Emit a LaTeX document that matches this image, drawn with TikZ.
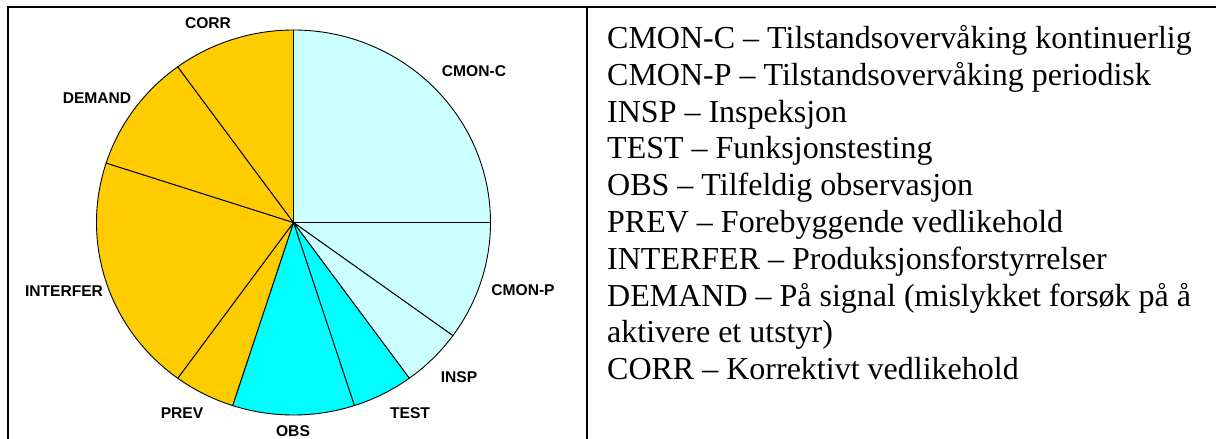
\documentclass[tikz,border=0pt]{standalone}
\usepackage{fontspec}
\setmainfont{Liberation Serif}
\newfontfamily\labelfont{Liberation Sans}
\definecolor{paleCyan}{HTML}{CCFFFF}
\definecolor{cyanA}{HTML}{00FFFF}
\definecolor{goldA}{HTML}{FFCC00}

\begin{document}
\begin{tikzpicture}[x=1pt,y=1pt,
  slicelbl/.style={font=\labelfont\bfseries\fontsize{15.6}{18}\selectfont, inner sep=0pt},
  legendline/.style={anchor=base west, inner sep=0pt, font=\fontsize{32}{36}\selectfont},
  rule/.style={line width=2pt},
  wedge/.style={draw=black, line width=0.9pt, line join=round}]
\useasboundingbox (0,0) rectangle (1216,439);

% frame of the two-cell table
\coordinate (tr) at (1216,432);
\coordinate (tl) at (8,432);
\coordinate (bl) at (8,0);
\coordinate (mt) at (587,432);
\coordinate (mb) at (587,0);
\draw[rule] (tr) -- (tl) -- (bl);
\draw[rule] (mt) -- (mb);

% pie chart
\coordinate (c) at (293.5,216.5);
\foreach \a/\b/\col in {0/90/paleCyan, -36/0/paleCyan, -54/-36/paleCyan,
    -72/-54/cyanA, -108/-72/cyanA, -126/-108/goldA, -198/-126/goldA,
    126/162/goldA, 90/126/goldA}
  \filldraw[wedge, fill=\col] (c) -- ++(\a:197 and 192.5)
     arc[start angle=\a, end angle=\b, x radius=197, y radius=192.5] -- cycle;

% slice labels
\node[slicelbl] (corr)  at (208,416) {CORR};
\node[slicelbl] (dem)   at (97,341)  {DEMAND};
\node[slicelbl] (cmonc) at (474,368) {CMON-C};
\node[slicelbl] (cmonp) at (523,149) {CMON-P};
\node[slicelbl] (insp)  at (459,62)  {INSP};
\node[slicelbl] (test)  at (410,26)  {TEST};
\node[slicelbl] (obs)   at (293,8)   {OBS};
\node[slicelbl] (prev)  at (182,26)  {PREV};
\node[slicelbl] (intf)  at (64,148)  {INTERFER};

% legend
\node[legendline] (l1)  at (607,390.5) {CMON-C – Tilstandsovervåking kontinuerlig};
\node[legendline] (l2)  at (607,353.7) {CMON-P – Tilstandsovervåking periodisk};
\node[legendline] (l3)  at (607,316.9) {INSP – Inspeksjon};
\node[legendline] (l4)  at (607,280.1) {TEST – Funksjonstesting};
\node[legendline] (l5)  at (607,243.3) {OBS – Tilfeldig observasjon};
\node[legendline] (l6)  at (607,206.5) {PREV – Forebyggende vedlikehold};
\node[legendline] (l7)  at (607,169.7) {INTERFER – Produksjonsforstyrrelser};
\node[legendline] (l8)  at (607,132.9) {DEMAND – På signal (mislykket forsøk på å};
\node[legendline] (l9)  at (607,96.1)  {aktivere et utstyr)};
\node[legendline] (l10) at (607,59.3)  {CORR – Korrektivt vedlikehold};
\end{tikzpicture}
\end{document}
